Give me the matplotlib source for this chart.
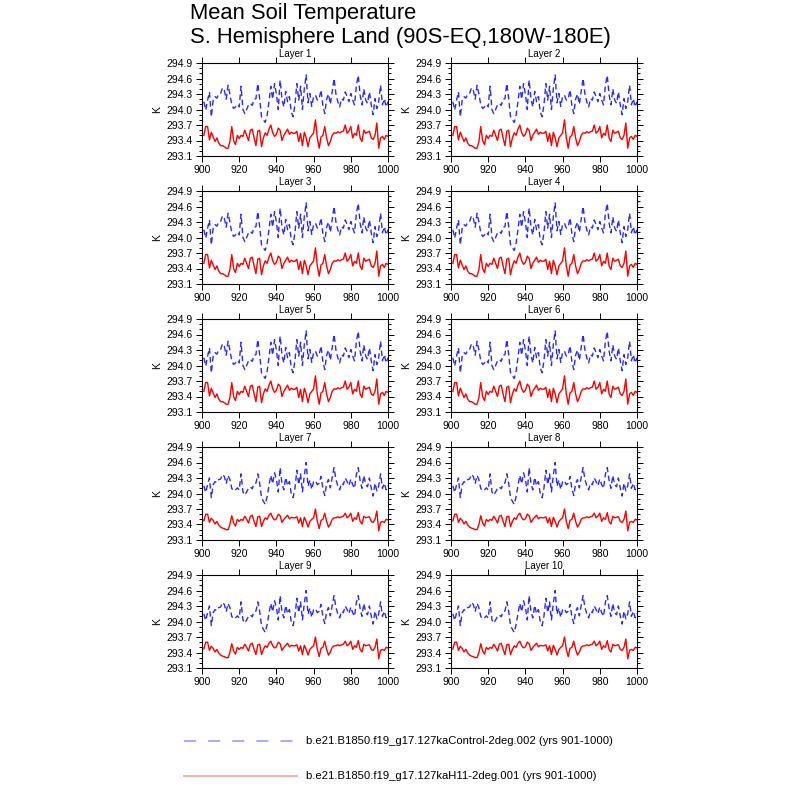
import matplotlib
matplotlib.use('Agg')
import matplotlib.pyplot as plt
from matplotlib.lines import Line2D
from matplotlib.ticker import MultipleLocator

plt.rcParams['font.family'] = ['Liberation Sans', 'DejaVu Sans']

years = list(range(901, 1001))

# upper layers (read from Layer 1)
ctrl_upper = [294.15, 293.99, 294.18, 294.34, 293.86, 294.18, 294.25, 294.22, 294.30, 294.31,
              294.42, 294.37, 294.20, 294.47, 294.30, 294.09, 294.02, 294.05, 294.10, 294.05,
              294.45, 294.00, 293.92, 294.00, 294.09, 294.12, 294.08, 294.20, 294.21, 294.50,
              294.21, 293.86, 293.80, 293.75, 293.89, 294.15, 294.45, 294.20, 294.50, 294.30,
              294.00, 294.57, 294.20, 294.05, 294.35, 294.15, 294.25, 293.95, 293.86, 294.10,
              294.50, 294.18, 294.45, 294.00, 294.40, 294.67, 294.13, 294.31, 294.06, 294.25,
              294.28, 294.18, 294.21, 294.38, 294.07, 293.92, 294.20, 294.30, 294.10, 294.35,
              294.60, 294.30, 294.15, 294.05, 294.21, 294.18, 294.34, 294.25, 294.15, 294.31,
              294.18, 294.09, 294.47, 294.66, 294.28, 294.09, 294.40, 294.18, 294.12, 294.34,
              294.09, 293.90, 294.21, 294.02, 294.15, 294.47, 294.09, 294.21, 294.05, 294.15]
h11_upper = [293.50, 293.67, 293.67, 293.41, 293.56, 293.47, 293.38, 293.45, 293.35, 293.30,
             293.30, 293.28, 293.25, 293.25, 293.38, 293.67, 293.40, 293.32, 293.50, 293.44,
             293.50, 293.48, 293.60, 293.50, 293.40, 293.60, 293.62, 293.45, 293.30, 293.58,
             293.60, 293.28, 293.45, 293.55, 293.50, 293.62, 293.70, 293.55, 293.48, 293.52,
             293.64, 293.60, 293.40, 293.50, 293.56, 293.62, 293.52, 293.56, 293.54, 293.54,
             293.58, 293.38, 293.54, 293.30, 293.56, 293.45, 293.28, 293.45, 293.50, 293.55,
             293.80, 293.45, 293.25, 293.47, 293.50, 293.67, 293.45, 293.30, 293.38, 293.50,
             293.55, 293.54, 293.57, 293.55, 293.57, 293.58, 293.70, 293.54, 293.58, 293.67,
             293.45, 293.54, 293.50, 293.70, 293.45, 293.38, 293.60, 293.54, 293.56, 293.58,
             293.45, 293.42, 293.50, 293.74, 293.25, 293.45, 293.48, 293.42, 293.50, 293.48]

# deeper layers (read from Layer 9)
ctrl_lower = [294.15, 294.02, 294.17, 294.30, 293.92, 294.17, 294.23, 294.21, 294.27, 294.28,
              294.37, 294.33, 294.19, 294.35, 294.27, 294.10, 294.05, 294.07, 294.11, 294.07,
              294.38, 294.03, 293.97, 294.03, 294.10, 294.13, 294.09, 294.19, 294.20, 294.38,
              294.20, 293.92, 293.85, 293.79, 293.94, 294.15, 294.35, 294.19, 294.40, 294.27,
              294.03, 294.50, 294.19, 294.07, 294.31, 294.15, 294.23, 293.99, 293.92, 294.11,
              294.45, 294.17, 294.38, 294.03, 294.35, 294.60, 294.14, 294.26, 294.08, 294.23,
              294.25, 294.17, 294.20, 294.33, 294.09, 293.96, 294.19, 294.27, 294.11, 294.31,
              294.50, 294.27, 294.15, 294.07, 294.20, 294.17, 294.30, 294.23, 294.15, 294.28,
              294.17, 294.10, 294.37, 294.50, 294.25, 294.10, 294.35, 294.17, 294.13, 294.30,
              294.10, 293.95, 294.20, 294.05, 294.15, 294.38, 294.10, 294.20, 294.07, 294.15]
h11_lower = [293.47, 293.60, 293.60, 293.44, 293.52, 293.48, 293.41, 293.46, 293.39, 293.35,
             293.33, 293.32, 293.30, 293.30, 293.40, 293.57, 293.43, 293.37, 293.50, 293.46,
             293.50, 293.48, 293.56, 293.50, 293.43, 293.56, 293.58, 293.46, 293.36, 293.55,
             293.56, 293.36, 293.46, 293.53, 293.50, 293.58, 293.62, 293.53, 293.49, 293.51,
             293.60, 293.57, 293.44, 293.50, 293.54, 293.58, 293.51, 293.54, 293.53, 293.53,
             293.55, 293.43, 293.53, 293.36, 293.54, 293.46, 293.35, 293.46, 293.50, 293.53,
             293.70, 293.46, 293.32, 293.48, 293.50, 293.62, 293.46, 293.35, 293.41, 293.50,
             293.53, 293.53, 293.55, 293.53, 293.55, 293.56, 293.62, 293.53, 293.56, 293.62,
             293.46, 293.53, 293.50, 293.63, 293.46, 293.41, 293.56, 293.53, 293.54, 293.55,
             293.46, 293.44, 293.50, 293.66, 293.28, 293.44, 293.46, 293.44, 293.50, 293.49]

layers = ['Layer %d' % i for i in range(1, 11)]
ctrl_data = [ctrl_upper] * 6 + [ctrl_lower] * 4
h11_data = [h11_upper] * 6 + [h11_lower] * 4

ctrl_label = 'b.e21.B1850.f19_g17.127kaControl-2deg.002 (yrs 901-1000)'
h11_label = 'b.e21.B1850.f19_g17.127kaH11-2deg.001 (yrs 901-1000)'

fig = plt.figure(figsize=(8, 8), dpi=100)

col_x = [202 / 800, 451 / 800]
w = 186 / 800
h = 93 / 800
row_bottom = [156, 284, 412, 540, 668]

for i in range(10):
    r, c = divmod(i, 2)
    ax = fig.add_axes([col_x[c], 1 - row_bottom[r] / 800, w, h])
    ax.plot(years, ctrl_data[i], color='#2b2bff', lw=1.0, dashes=(4, 2.5))
    ax.plot(years, h11_data[i], color='red', lw=1.0)
    ax.set_xlim(900, 1000)
    ax.set_ylim(293.1, 294.9)
    ax.set_xticks(range(900, 1001, 20))
    ax.set_yticks([293.1 + 0.3 * k for k in range(7)])
    ax.set_yticklabels(['%.1f' % (293.1 + 0.3 * k) for k in range(7)])
    ax.yaxis.set_minor_locator(MultipleLocator(0.1))
    ax.tick_params(which='both', direction='out', top=True, right=True,
                   labelsize=7.5, width=0.7, pad=2.5)
    ax.tick_params(which='major', length=4)
    ax.tick_params(which='minor', length=2)
    for s in ax.spines.values():
        s.set_linewidth(0.8)
    ax.set_ylabel('K', fontsize=7.5, labelpad=3)
    ax.set_title(layers[i], fontsize=7, pad=4)

fig.text(190 / 800, 1 - 14 / 800, 'Mean Soil Temperature', fontsize=15.8, va='center')
fig.text(190 / 800, 1 - 37 / 800, 'S. Hemisphere Land (90S-EQ,180W-180E)', fontsize=15.8, va='center')

# legend
fig.add_artist(Line2D([184 / 800, 297 / 800], [1 - 741 / 800] * 2, color='#aaaaff', lw=1.4, dashes=(6.2, 6.2)))
fig.add_artist(Line2D([184 / 800, 297 / 800], [1 - 776 / 800] * 2, color='#ffaaaa', lw=1.4))
fig.text(306 / 800, 1 - 741 / 800, ctrl_label, fontsize=8.1, va='center')
fig.text(306 / 800, 1 - 776 / 800, h11_label, fontsize=8.1, va='center')

fig.savefig('out.png', dpi=100)
